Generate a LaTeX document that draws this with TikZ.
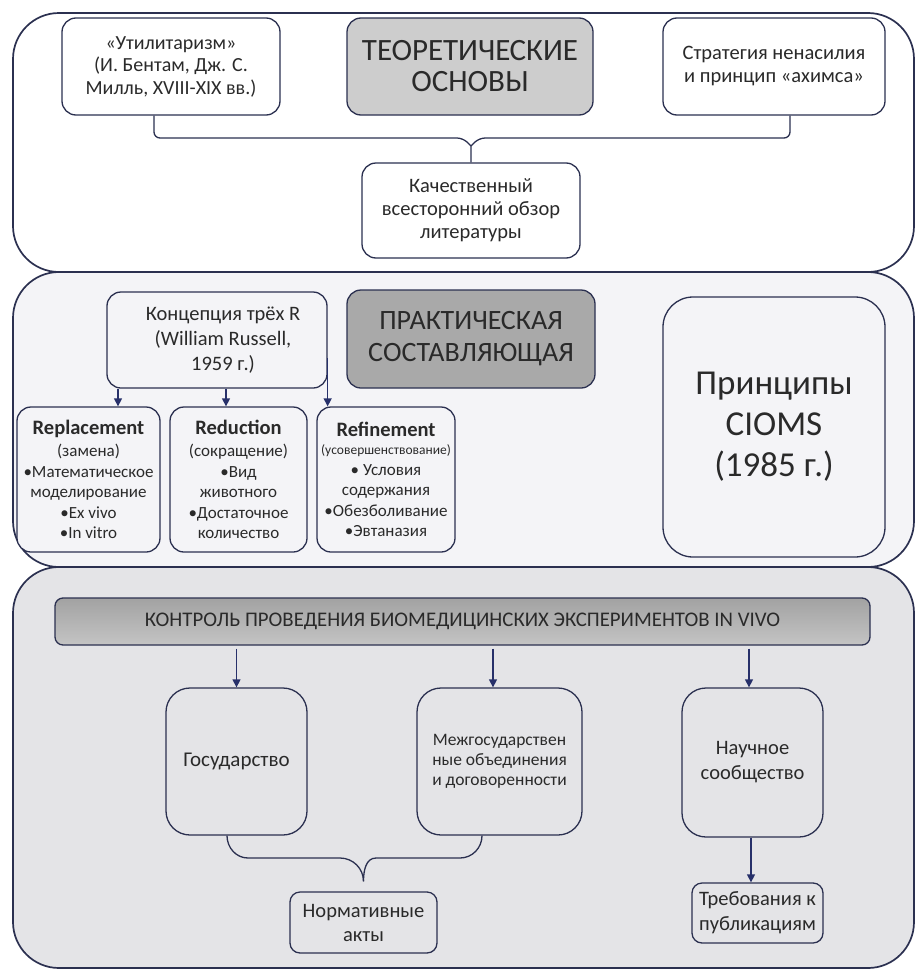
\documentclass[tikz,border=0pt]{standalone}
\usepackage{fontspec}
\setmainfont{Carlito}
\usetikzlibrary{arrows.meta}
\definecolor{lineC}{HTML}{2B3050}
\definecolor{arrC}{HTML}{27306A}
\definecolor{txt}{HTML}{2A2A2A}
\definecolor{midfill}{HTML}{F4F4F7}
\definecolor{botfill}{HTML}{E4E4E7}
\definecolor{grayA}{HTML}{CDCDCD}
\definecolor{grayB}{HTML}{A9A9A9}
\definecolor{barTop}{HTML}{A2A2A2}
\definecolor{barBot}{HTML}{C4C4C4}
\newcommand\fs[2]{\fontsize{#1}{#2}\selectfont}
\tikzset{
  panel/.style={draw=lineC,line width=1.7pt,rounded corners=46pt},
  box/.style={draw=lineC,line width=1.3pt,rounded corners=14pt,align=center,inner sep=0pt,text=txt},
  arr/.style={draw=arrC,line width=1.3pt,-{Triangle[length=8pt,width=8pt]}},
  brace/.style={draw=lineC,line width=1.3pt},
}
\begin{document}
\begin{tikzpicture}[x=1pt,y=-1pt]
\useasboundingbox (0,0) rectangle (917,969);
% panels
\draw[panel,fill=white] (13,13) rectangle (914,272);
\draw[panel,fill=midfill] (13,272) rectangle (914,567);
\draw[panel,fill=botfill] (13,567) rectangle (914,968);

% ---- top panel
\node[box,fill=white,minimum width=218pt,minimum height=97pt,font=\fs{20}{22.5}] (util) at (171,66.5)
  {«Утилитаризм»\\(И. Бентам, Дж. С.\\Милль, XVIII-XIX вв.)};
\node[box,fill=grayA,minimum width=246pt,minimum height=97pt,font=\fs{31}{31}] (theo) at (470,66.5)
  {ТЕОРЕТИЧЕСКИЕ\\ОСНОВЫ};
\node[box,fill=white,minimum width=222pt,minimum height=97pt,font=\fs{20.5}{23}] (strat) at (774,66.5)
  {Стратегия ненасилия\\и принцип «ахимса»};
\node[box,fill=white,minimum width=218pt,minimum height=95pt,font=\fs{20.5}{23}] (qual) at (471,210.5)
  {Качественный\\всесторонний обзор\\литературы};

\coordinate (tt) at (471,138);
\draw[brace] ([xshift=-17pt]util.south) [rounded corners=6pt] |- ([xshift=-8pt]tt) [sharp corners] -- ([yshift=-8pt]tt) -- (qual.north);
\draw[brace] ([xshift=16pt]strat.south) [rounded corners=6pt] |- ([xshift=8pt]tt) [sharp corners] -- ([yshift=-8pt]tt);

% ---- middle panel
\node[box,fill=midfill,minimum width=220pt,minimum height=96pt,font=\fs{20.5}{25}] (conc) at (217,340)
  {\hspace*{12pt}Концепция трёх R\\\hspace*{12pt}(William Russell,\\\hspace*{12pt}1959 г.)};
\node[box,fill=grayB,minimum width=248pt,minimum height=98pt,font=\fs{28}{32}] (prac) at (471,339)
  {ПРАКТИЧЕСКАЯ\\СОСТАВЛЯЮЩАЯ};
\node[box,fill=midfill,rounded corners=30pt,minimum width=222pt,minimum height=260pt,font=\fs{35}{41}] (cioms) at (774,427)
  {Принципы\\CIOMS\\(1985 г.)};

\node[box,fill=midfill,minimum width=143pt,minimum height=145pt,font=\fs{17}{20.5}] (repl) at (88.5,479.5)
  {{\fs{20.5}{24}\bfseries Replacement}\\[2pt](замена)\\•Математическое\\моделирование\\•Ex vivo\\•In vitro};
\node[box,fill=midfill,minimum width=137pt,minimum height=145pt,font=\fs{17}{20.5}] (redu) at (238.5,479.5)
  {{\fs{20.5}{24}\bfseries Reduction}\\[2pt](сокращение)\\•Вид\\животного\\•Достаточное\\количество};
\node[box,fill=midfill,minimum width=138pt,minimum height=145pt,font=\fs{17}{20.5}] (refi) at (386,479.5)
  {{\fs{20.5}{24}\bfseries Refinement}\\[-2pt]{\fs{13.5}{14}(усовершенствование)}\\• Условия\\содержания\\•Обезболивание\\•Эвтаназия};

\draw[arr] ([xshift=-99pt]conc.south) -- ([xshift=-99pt]conc.south |- repl.north);
\draw[arr] ([xshift=9pt]conc.south) -- ([xshift=9pt]conc.south |- redu.north);
\draw[arr] ([yshift=-18pt]conc.east) -- (conc.east |- refi.north);

% ---- bottom panel
\node[box,top color=barTop,bottom color=barBot,rounded corners=8pt,minimum width=815pt,minimum height=47pt,font=\fs{20.8}{24}] (ctrl) at (462.5,621.5)
  {КОНТРОЛЬ ПРОВЕДЕНИЯ БИОМЕДИЦИНСКИХ ЭКСПЕРИМЕНТОВ IN VIVO};
\node[box,fill=botfill,rounded corners=24pt,minimum width=141pt,minimum height=147pt,font=\fs{21}{24}] (gos) at (236.5,761.5)
  {Государство};
\node[box,fill=botfill,rounded corners=24pt,minimum width=165pt,minimum height=147pt,font=\fs{17.5}{20}] (mezh) at (499.5,761.5)
  {Межгосударствен\\ные объединения\\и договоренности};
\node[box,fill=botfill,rounded corners=24pt,minimum width=141pt,minimum height=149pt,font=\fs{20.5}{25}] (nauch) at (752.5,762.5)
  {Научное\\сообщество};
\node[box,fill=botfill,rounded corners=10pt,minimum width=147pt,minimum height=61pt,font=\fs{20.5}{24}] (norm) at (363.5,922.5)
  {Нормативные\\акты};
\node[box,fill=botfill,rounded corners=10pt,minimum width=131pt,minimum height=60pt,font=\fs{20.5}{25}] (treb) at (757.5,913)
  {Требования к\\публикациям};

\draw[arr] ([yshift=-3pt]ctrl.south -| gos.north) -- (gos.north);
\draw[arr] ([yshift=-3pt]ctrl.south -| mezh.north) ++(-6.5,0) -- ([xshift=-6.5pt]mezh.north);
\draw[arr] ([yshift=-3pt]ctrl.south -| nauch.north) ++(-3.5,0) -- ([xshift=-3.5pt]nauch.north);
\draw[arr] ([xshift=-1.5pt]nauch.south) -- ([xshift=-1.5pt]nauch.south |- treb.north);

\coordinate (bt) at ([yshift=10pt]norm.north);
\coordinate (bl) at (358,858);
\draw[brace] ([xshift=-9.5pt]gos.south) to[out=-90,in=180] ([xshift=-110pt]bl) -- ([xshift=-18pt]bl) to[out=0,in=90] (bt);
\draw[brace] ([xshift=-17.5pt]mezh.south) to[out=-90,in=0] ([xshift=102pt]bl) -- ([xshift=18pt]bl) to[out=180,in=90] (bt);
\end{tikzpicture}
\end{document}
